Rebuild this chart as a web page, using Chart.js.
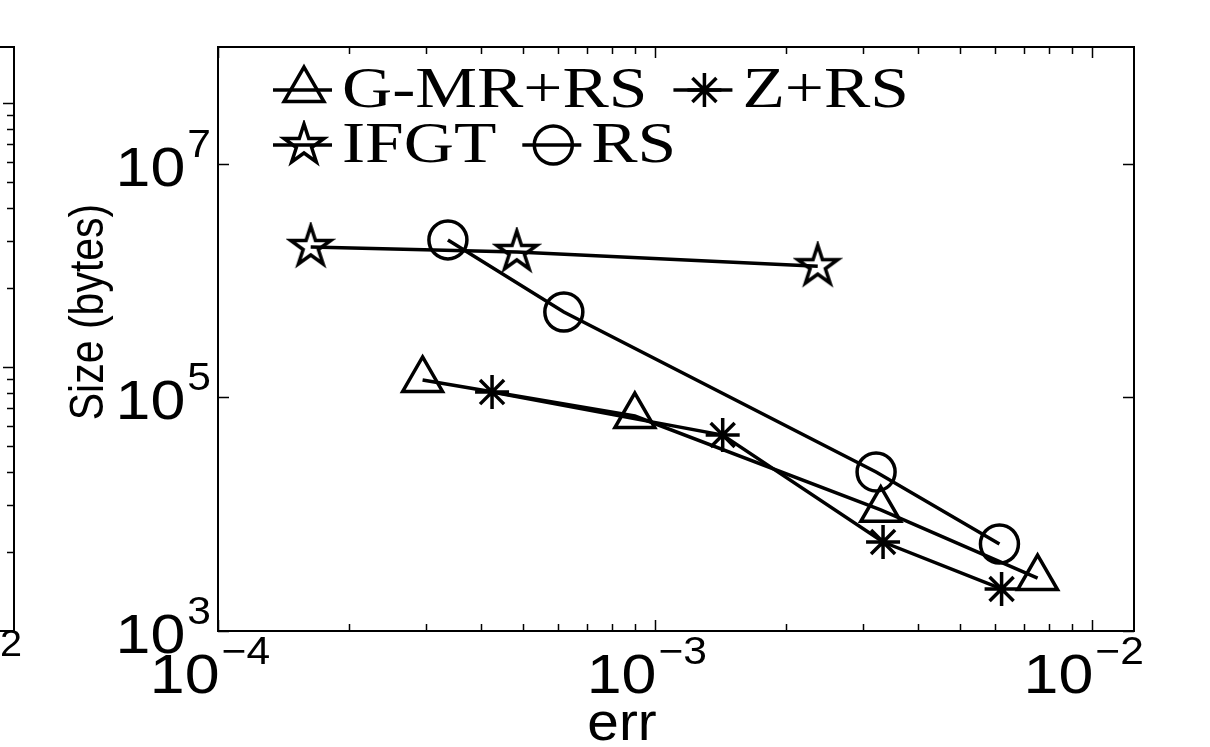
<!DOCTYPE html>
<html lang="en">
<head>
  <meta charset="UTF-8" />
  <title>Size vs err</title>
  <script src="https://cdn.jsdelivr.net/npm/chart.js"></script>
  <style>
    html, body { margin: 0; padding: 0; background: #fff; }
    #wrap { width: 1210px; height: 747px; }
  </style>
</head>
<body>
<div id="wrap"><canvas id="chart" width="1210" height="747"></canvas></div>
<script>
  // values: err (x) and size in bytes (y)
  const gmrErr  = [2.94e-4, 9.0e-4, 3.29e-3, 7.52e-3];
  const gmrSize = [1.41e5, 6.93e4, 1.09e4, 2.84e3];
  const zErr    = [4.24e-4, 1.43e-3, 3.33e-3, 6.22e-3];
  const zSize   = [1.11e5, 4.76e4, 5.78e3, 2.29e3];
  const ifgtErr  = [1.63e-4, 4.83e-4, 2.36e-3];
  const ifgtSize = [1.94e6, 1.76e6, 1.33e6];
  const rsErr  = [3.36e-4, 6.19e-4, 3.21e-3, 6.15e-3];
  const rsSize = [2.23e6, 5.38e5, 2.30e4, 5.56e3];

  const seriesNames = ["G-MR+RS", "Z+RS", "IFGT", "RS"];

  const xTicks = [1e-4, 1e-3, 1e-2];
  const xTickExp = ["\u22124", "\u22123", "\u22122"];
  const yTicks = [1e3, 1e5, 1e7];
  const yTickExp = ["3", "5", "7"];
  const mantissas = [2, 3, 4, 5, 6, 7, 8, 9];

  const SANS = '"Liberation Sans", Arial, sans-serif';
  const SERIF = '"Liberation Serif", "Times New Roman", serif';
  const LW = 3.5;

  // hollow five-point star marker (matlab 'p')
  function makePentagram(R) {
    const c = document.createElement("canvas");
    const s = Math.ceil(R * 2 + 8);
    c.width = s; c.height = s;
    const g = c.getContext("2d");
    const cx = s / 2, cy = s / 2;
    const r = R * 0.382;
    g.beginPath();
    for (let i = 0; i < 10; i++) {
      const rad = i % 2 === 0 ? R : r;
      const a = -Math.PI / 2 + i * Math.PI / 5;
      const px = cx + rad * Math.cos(a), py = cy + rad * Math.sin(a);
      if (i === 0) g.moveTo(px, py); else g.lineTo(px, py);
    }
    g.closePath();
    g.lineWidth = LW;
    g.lineJoin = "miter";
    g.strokeStyle = "#000";
    g.stroke();
    return c;
  }
  const pentagram = makePentagram(21);

  const pts = (xs, ys) => xs.map((v, i) => ({ x: v, y: ys[i] }));

  function series(label, data, style, radius) {
    return {
      label, data,
      showLine: true,
      borderColor: "#000",
      borderWidth: LW,
      pointStyle: style,
      pointRadius: radius,
      pointHoverRadius: radius,
      pointBorderWidth: LW,
      pointBorderColor: "#000",
      pointBackgroundColor: "rgba(0,0,0,0)",
      tension: 0
    };
  }

  const datasets = [
    series(seriesNames[0], pts(gmrErr, gmrSize), "triangle", 23),
    series(seriesNames[1], pts(zErr, zSize), "star", 17),
    series(seriesNames[2], pts(ifgtErr, ifgtSize), pentagram, 20),
    series(seriesNames[3], pts(rsErr, rsSize), "circle", 19)
  ];

  function stretchText(ctx, str, x, y, font, sx, align, sy) {
    ctx.save();
    ctx.font = font;
    ctx.textAlign = align || "left";
    ctx.textBaseline = "alphabetic";
    ctx.translate(x, y);
    ctx.scale(sx, sy || 1);
    ctx.fillText(str, 0, 0);
    ctx.restore();
  }

  function textWidth(ctx, str, font, sx) {
    ctx.save();
    ctx.font = font;
    const w = ctx.measureText(str).width * sx;
    ctx.restore();
    return w;
  }

  // "10" with a raised exponent, like matlab log tick labels
  const BASE_FONT = "56px " + SANS, EXP_FONT = "38px " + SANS, TICK_SX = 1.12;
  function drawPow(ctx, exp, x, baseline, anchor) {
    const w1 = textWidth(ctx, "10", BASE_FONT, TICK_SX);
    const w2 = textWidth(ctx, exp, EXP_FONT, TICK_SX);
    let left = x;
    if (anchor === "right") left = x - w1 - w2 - 2;
    if (anchor === "center") left = x - (w1 + w2 + 2) / 2;
    stretchText(ctx, "10", left, baseline, BASE_FONT, TICK_SX);
    stretchText(ctx, exp, left + w1 + 2, baseline - 29, EXP_FONT, TICK_SX);
  }

  const axesPlugin = {
    id: "matlabAxes",
    afterDraw(chart) {
      const { ctx, chartArea: a, scales: { x, y } } = chart;
      ctx.save();
      ctx.strokeStyle = "#000";
      ctx.fillStyle = "#000";
      ctx.lineWidth = 2;
      ctx.strokeRect(a.left, a.top, a.right - a.left, a.bottom - a.top);

      // x ticks, inward, bottom and top
      ctx.lineWidth = 1.5;
      const xAll = [];
      xTicks.forEach(t => xAll.push([t, 11]));
      xTicks.forEach(t => mantissas.forEach(m => xAll.push([t * m, 7])));
      xAll.forEach(([v, len]) => {
        if (v < x.min || v > x.max) return;
        const px = Math.round(x.getPixelForValue(v)) + 0.5;
        ctx.beginPath();
        ctx.moveTo(px, a.bottom); ctx.lineTo(px, a.bottom - len);
        ctx.moveTo(px, a.top); ctx.lineTo(px, a.top + len);
        ctx.stroke();
      });
      // y ticks, inward, left and right
      yTicks.forEach(v => {
        const py = Math.round(y.getPixelForValue(v)) + 0.5;
        ctx.beginPath();
        ctx.moveTo(a.left, py); ctx.lineTo(a.left + 11, py);
        ctx.moveTo(a.right, py); ctx.lineTo(a.right - 11, py);
        ctx.stroke();
      });

      // tick labels
      xTicks.forEach((v, i) => {
        drawPow(ctx, xTickExp[i], x.getPixelForValue(v) - 8, 693, "center");
      });
      yTicks.forEach((v, i) => {
        drawPow(ctx, yTickExp[i], 211, y.getPixelForValue(v) + 22, "right");
      });

      // axis titles
      stretchText(ctx, "err", 622, 740, "54px " + SANS, 1.05, "center");
      ctx.save();
      ctx.translate(103, 312);
      ctx.rotate(-Math.PI / 2);
      stretchText(ctx, "Size (bytes)", 0, 0, "41px " + SANS, 1, "center", 1.15);
      ctx.restore();

      // right edge of the neighbouring panel, cut off by the frame
      const ex = 14, bottom = a.bottom, dec = 264;
      ctx.lineWidth = 2;
      ctx.beginPath();
      ctx.moveTo(0, a.top); ctx.lineTo(ex, a.top); ctx.lineTo(ex, bottom); ctx.lineTo(0, bottom);
      ctx.stroke();
      ctx.lineWidth = 1.5;
      for (let k = 0; k < 3; k++) {
        [1].concat(mantissas).forEach(m => {
          const py = bottom - dec * (k + Math.log10(m));
          if (py < a.top + 2 || py > bottom - 2) return;
          const len = m === 1 ? 11 : 7;
          ctx.beginPath();
          ctx.moveTo(ex, Math.round(py) + 0.5); ctx.lineTo(ex - len, Math.round(py) + 0.5);
          ctx.stroke();
        });
      }
      stretchText(ctx, "2", 0, 656, "36px " + SANS, 1.1, "left");

      // tails of the panel titles above
      stretchText(ctx, ")", 18, -11, "44px " + SANS, 1, "left");
      stretchText(ctx, "(", 636, -11, "44px " + SANS, 1, "left");
      stretchText(ctx, ")", 1054, -11, "44px " + SANS, 1, "left");
      ctx.restore();
    }
  };

  // hollow marker for the legend samples
  function legendMarker(ctx, style, radius, mx, my) {
    if (style instanceof HTMLCanvasElement) {
      ctx.drawImage(style, mx - style.width / 2, my - style.height / 2);
      return;
    }
    if (Chart.helpers && Chart.helpers.drawPoint) {
      ctx.save();
      ctx.fillStyle = "rgba(0,0,0,0)";
      ctx.lineWidth = LW;
      Chart.helpers.drawPoint(ctx, { pointStyle: style, radius, borderWidth: LW, rotation: 0 }, mx, my);
      ctx.restore();
    }
  }

  // legend in two flowing rows, line sample with marker then serif label
  const LEG_FONT = "56px " + SERIF, LEG_SX = 1.24;
  const legendRows = [[0, 1], [2, 3]];
  const legendPlugin = {
    id: "flowLegend",
    afterDraw(chart) {
      const { ctx } = chart;
      const rowY = [107, 162];
      ctx.save();
      ctx.fillStyle = "#000";
      ctx.strokeStyle = "#000";
      legendRows.forEach((row, r) => {
        let xPos = 273;
        const base = rowY[r];
        const midY = base - 17;
        row.forEach(di => {
          const ds = chart.data.datasets[di];
          ctx.lineWidth = LW;
          ctx.beginPath();
          ctx.moveTo(xPos, midY); ctx.lineTo(xPos + 59, midY);
          ctx.stroke();
          legendMarker(ctx, ds.pointStyle, ds.pointRadius, xPos + 31, midY);
          const tx = xPos + 69;
          stretchText(ctx, ds.label, tx, base, LEG_FONT, LEG_SX, "left");
          xPos = tx + textWidth(ctx, ds.label, LEG_FONT, LEG_SX) + 26;
        });
      });
      ctx.restore();
    }
  };

  new Chart(document.getElementById("chart").getContext("2d"), {
    type: "scatter",
    data: { datasets },
    options: {
      responsive: false,
      animation: false,
      devicePixelRatio: 1,
      layout: { padding: { left: 218, top: 47, right: 76, bottom: 116 } },
      scales: {
        x: { type: "logarithmic", min: 1e-4, max: 0.0125, display: false },
        y: { type: "logarithmic", min: 1e3, max: 1e8, display: false }
      },
      plugins: {
        legend: { display: false },
        tooltip: { enabled: false }
      }
    },
    plugins: [axesPlugin, legendPlugin]
  });
</script>
</body>
</html>
